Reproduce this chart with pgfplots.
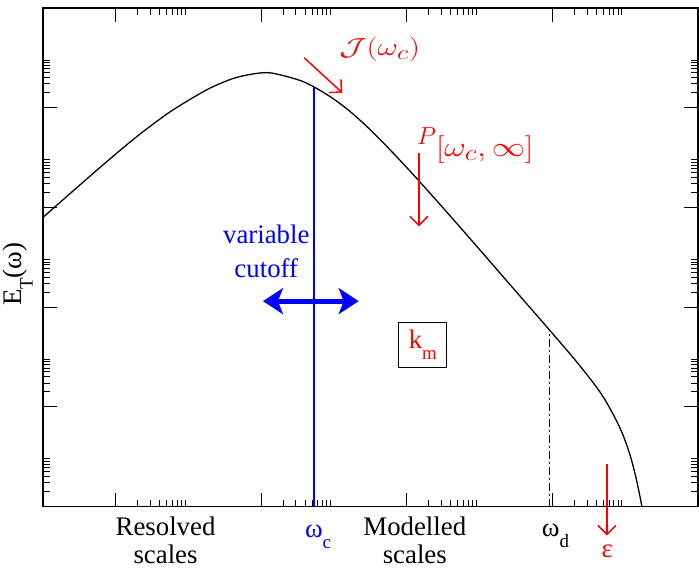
\documentclass[border=0pt]{standalone}
\usepackage{fontspec}
\setmainfont{Liberation Serif}
\newfontfamily\timesfont{Liberation Serif}
\usepackage{graphicx}
\usepackage{pgfplots}
\pgfplotsset{compat=1.18}
\usetikzlibrary{arrows.meta}

\newcommand\lblfont{\timesfont\fontsize{27}{30}\selectfont}
\newcommand\tsub[1]{\raisebox{-0.4em}{\fontsize{19}{20}\selectfont #1}}

% spectrum: omega, E_T
\pgfplotstableread{
x        y
0.0969   6.03e5
0.2495   2.03e6
0.7295   7.94e6
2.065    2.81e7
5.85     8.63e7
17.1     2.21e8
32.1     3.37e8
48.4     4.13e8
82.8     4.83e8
137      4.97e8
321      3.63e8
515      2.67e8
910      1.62e8
1556     9.08e7
2661     4.55e7
4406     2.21e7
7534     9.77e6
14158    3.61e6
31120    9.95e5
68550    2.68e5
2.42e5   3.22e4
8.55e5   3873
2.20e6   769
4.13e6   237
5.66e6   116
7.76e6   49.4
9.68e6   23.6
1.21e7   8.95
1.46e7   2.96
1.71e7   0.938
1.88e7   0.409
}\spectrum

\begin{document}
\begin{tikzpicture}
\begin{axis}[
  scale only axis,
  width=657bp, height=500bp,
  xmode=log, ymode=log,
  xmin=0.1, xmax=1e8,
  ymin=1, ymax=1e10,
  xtick={1,100,1e4,1e6},
  ytick={100,1e4,1e6,1e8},
  minor xtick={2,3,4,5,6,7,8,9,
    200,300,400,500,600,700,800,900,
    2e4,3e4,4e4,5e4,6e4,7e4,8e4,9e4,
    2e6,3e6,4e6,5e6,6e6,7e6,8e6,9e6},
  minor ytick={2,3,4,5,6,7,8,9,
    200,300,400,500,600,700,800,900,
    2e4,3e4,4e4,5e4,6e4,7e4,8e4,9e4,
    2e6,3e6,4e6,5e6,6e6,7e6,8e6,9e6,
    2e8,3e8,4e8,5e8,6e8,7e8,8e8,9e8},
  xticklabels={}, yticklabels={},
  major tick length=14bp, minor tick length=7bp,
  every tick/.style={black, line width=1bp},
  axis line style={line width=1.5bp},
  clip mode=individual,
]
\addplot[black, line width=1.3bp, smooth] table {\spectrum};
% cutoff and dissipation lines
\addplot[blue, line width=1.3bp] coordinates {(532,1) (532,2.55e8)};
\addplot[black, line width=1.3bp, dash pattern=on 8bp off 3bp on 2bp off 3bp]
  coordinates {(9.1e5,1) (9.1e5,3467)};

\node[blue, align=center, font=\lblfont, inner sep=0pt] at (rel axis cs:0.341,0.512)
  {variable\\[4bp]cutoff};
\draw[blue, line width=5bp, {Stealth[length=20bp,width=26bp,inset=5bp]}-{Stealth[length=20bp,width=26bp,inset=5bp]}]
  (rel axis cs:0.336,0.412) -- (rel axis cs:0.482,0.412);

\node[red, inner sep=0pt] at (rel axis cs:0.514,0.917)
  {\scalebox{1.28}[1]{\fontsize{24.88}{27}\selectfont$\mathcal{J}(\omega_c)$}};
\draw[red, line width=1.5bp, -{Straight Barb[length=9bp,width=18bp]}]
  (rel axis cs:0.399,0.90) -- (rel axis cs:0.457,0.83);

\node[red, inner sep=0pt, anchor=base west] at (rel axis cs:0.571,0.726)
  {{\fontsize{24.88}{27}\selectfont$P$}\raisebox{-12bp}{\scalebox{1.35}[1.12]{\fontsize{24.88}{27}\selectfont$[\omega_c,\infty]$}}};
\draw[red, line width=1.5bp, -{Straight Barb[length=9bp,width=18bp]}]
  (rel axis cs:0.574,0.71) -- (rel axis cs:0.574,0.562);

\node[draw=black, line width=1bp, text=red, font=\lblfont, minimum width=48bp,
  minimum height=46bp, inner sep=0pt] at (rel axis cs:0.58,0.324)
  {k\tsub{m}};

\draw[red, line width=1.5bp, -{Straight Barb[length=9bp,width=18bp]}]
  (rel axis cs:0.861,0.086) -- (rel axis cs:0.861,-0.058);
\end{axis}

% labels round the axis
\begin{scope}[shift={(current axis.south west)}, x=1bp, y=1bp]
\node[rotate=90, font=\lblfont, inner sep=0pt] at (-25,233) {E\tsub{T}(ω)};
\node[align=center, font=\lblfont, inner sep=0pt] at (123,-34) {Resolved\\[-2bp]scales};
\node[align=center, font=\lblfont, inner sep=0pt] at (373,-34) {Modelled\\[-2bp]scales};
\node[blue, font=\lblfont, inner sep=0pt] at (276,-30) {ω\tsub{c}};
\node[font=\lblfont, inner sep=0pt] at (514,-29) {ω\tsub{d}};
\node[red, font=\lblfont, inner sep=0pt] at (566,-45) {ε};
\end{scope}

\pgfresetboundingbox
\path ([xshift=-43bp,yshift=-63bp]current axis.south west)
  rectangle ([xshift=1bp,yshift=8bp]current axis.north east);
\end{tikzpicture}
\end{document}
